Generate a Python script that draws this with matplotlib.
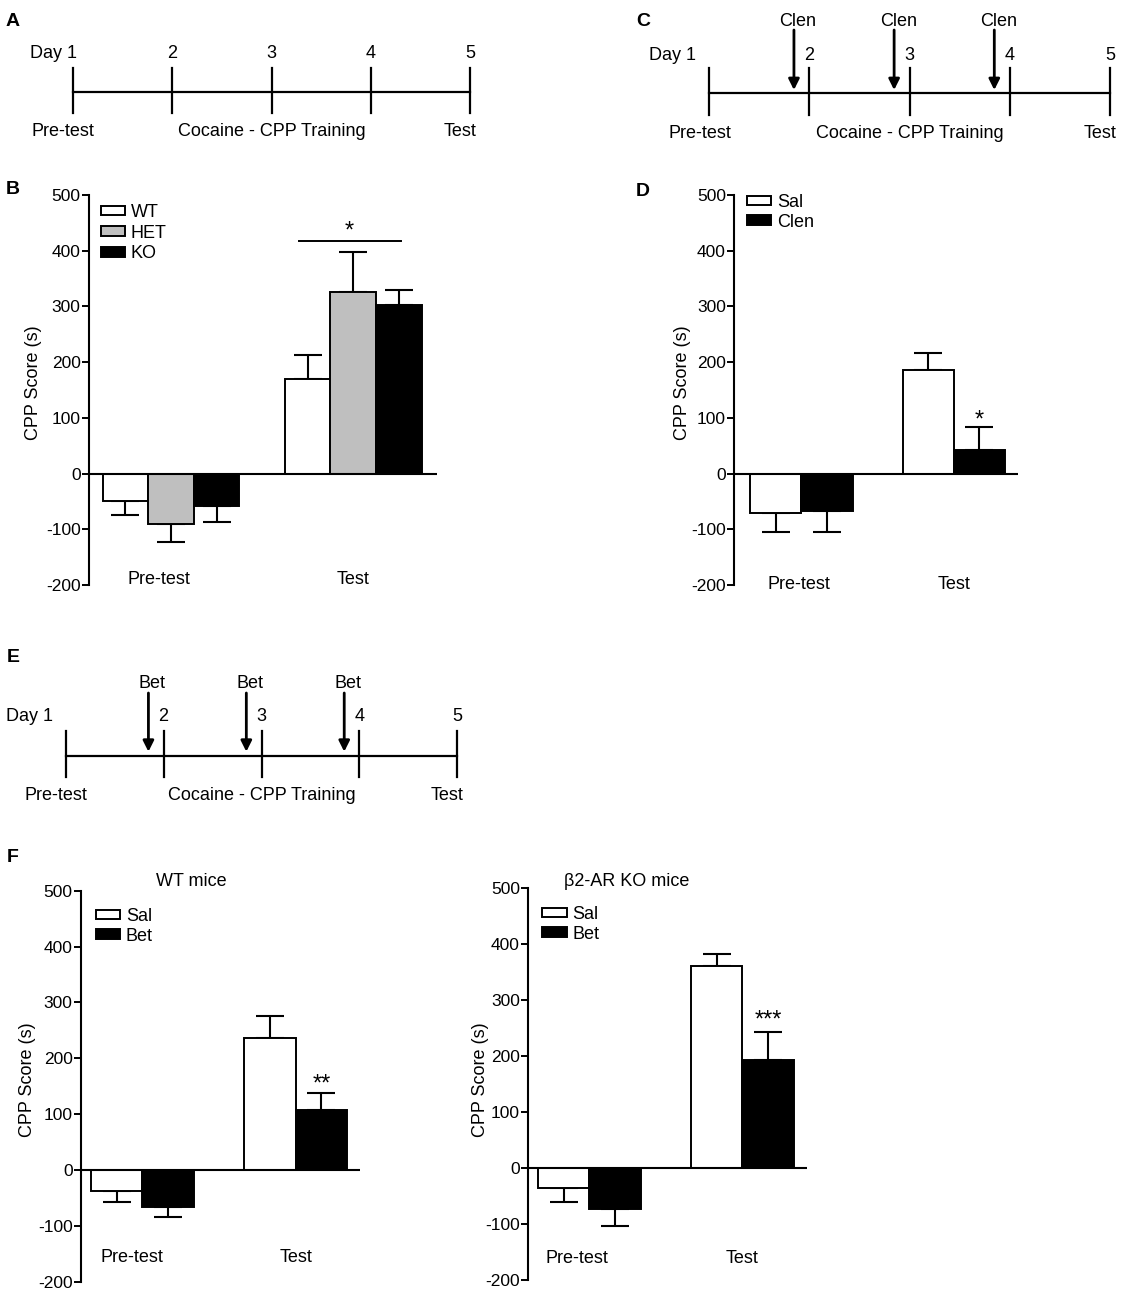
import numpy as np
import matplotlib
matplotlib.use("Agg")
import matplotlib.pyplot as plt

plt.rcParams['font.family'] = ['Liberation Sans', 'DejaVu Sans']
plt.rcParams['font.size'] = 13
plt.rcParams['axes.unicode_minus'] = False

W, H = 1123, 1300

# ---- data ----
groups = ['Pre-test', 'Test']

# B: genotype
b_labels = ['WT', 'HET', 'KO']
b_means = [[-49, 169], [-91, 326], [-59, 303]]
b_errs = [[26, 43], [32, 71], [28, 26]]

# D: clenbuterol
d_labels = ['Sal', 'Clen']
d_means = [[-71, 185], [-68, 43]]
d_errs = [[33, 31], [37, 40]]

# F: betaxolol, WT mice / b2-AR KO mice
f_labels = ['Sal', 'Bet']
fwt_means = [[-38, 237], [-67, 107]]
fwt_errs = [[20, 38], [18, 30]]
fko_means = [[-35, 361], [-73, 194]]
fko_errs = [[26, 22], [31, 50]]

days = [1, 2, 3, 4, 5]
inj_days = [2, 3, 4]
yticks = [-200, -100, 0, 100, 200, 300, 400, 500]

fig = plt.figure(figsize=(W / 100, H / 100), dpi=100)


def px_axes(x0, y0, x1, y1):
    return fig.add_axes([x0 / W, 1 - y1 / H, (x1 - x0) / W, (y1 - y0) / H])


def timeline(x0, x1, y0, y1, yline, ytick0, ytick1, ynum, ybot, drug=None,
             yarr0=None, yarr1=None, ydrug=None, day1_off=0):
    ax = px_axes(x0, y0, x1, y1)
    ax.set_xlim(1, 5)
    ax.set_ylim(y1, y0)
    ax.axis('off')
    ax.plot([days[0], days[-1]], [yline, yline], color='black', lw=1.6,
            clip_on=False)
    for d in days:
        ax.plot([d, d], [ytick0, ytick1], color='black', lw=1.6, clip_on=False)
        if d == 1:
            ax.annotate('Day 1', (d, ynum), xytext=(day1_off, 0),
                        textcoords='offset pixels', ha='right', va='center',
                        annotation_clip=False)
        else:
            ax.text(d, ynum, str(d), ha='center', va='center')
    ax.annotate('Pre-test', (days[0], ybot), xytext=(-41, 0),
                textcoords='offset pixels', ha='left', va='center',
                annotation_clip=False)
    ax.text(3, ybot, 'Cocaine - CPP Training', ha='center', va='center')
    ax.annotate('Test', (days[-1], ybot), xytext=(6, 0),
                textcoords='offset pixels', ha='right', va='center',
                annotation_clip=False)
    if drug:
        for d in inj_days:
            xa = d - 0.155
            ax.annotate('', xy=(xa, yarr1), xytext=(xa, yarr0),
                        arrowprops=dict(arrowstyle='-|>', lw=2, color='black',
                                        mutation_scale=16, shrinkA=0,
                                        shrinkB=0),
                        annotation_clip=False)
            ax.text(xa + 0.04, ydrug, drug, ha='center', va='center')
    return ax


def cpp_panel(x0, x1, ytop, ybot, xlim, labels, means, errs, colors, width,
              ylab_px, legend_px, cat_y, pre_dx, lspace=0.15):
    ax = px_axes(x0, ytop, x1, ybot)
    ax.set_xlim(*xlim)
    ax.set_ylim(-200, 500)
    for s in ['top', 'right', 'bottom']:
        ax.spines[s].set_visible(False)
    ax.spines['left'].set_linewidth(1.5)
    ax.set_yticks(yticks)
    ax.tick_params(axis='y', length=5, width=1.4, labelsize=12.5, pad=1)
    ax.set_xticks([])
    n = len(means)
    handles = []
    for k in range(n):
        m = np.array(means[k], dtype=float)
        e = np.array(errs[k], dtype=float)
        xs = np.arange(len(groups)) + (k - (n - 1) / 2) * width
        b = ax.bar(xs, m, width, color=colors[k], edgecolor='black',
                   linewidth=1.4, zorder=2)
        lo = np.where(m < 0, e, 0)
        hi = np.where(m >= 0, e, 0)
        ax.errorbar(xs, m, yerr=[lo, hi], fmt='none', ecolor='black',
                    elinewidth=1.5, capsize=10, capthick=1.5, zorder=1)
        handles.append(b)
    ax.axhline(0, color='black', lw=1.5, zorder=3)
    for i, g in enumerate(groups):
        ax.text(i + (pre_dx if i == 0 else 0), cat_y, g, ha='center',
                va='center')
    ax.set_ylabel('CPP Score (s)')
    ax.yaxis.set_label_coords((ylab_px[0] + 9) / W, 1 - ylab_px[1] / H,
                              transform=fig.transFigure)
    ax.legend(handles, labels, loc='upper left',
              bbox_to_anchor=(legend_px[0] / W, 1 - legend_px[1] / H),
              bbox_transform=fig.transFigure, frameon=False, borderpad=0,
              borderaxespad=0, handlelength=1.35, handleheight=0.45,
              handletextpad=0.3, labelspacing=lspace)
    return ax


def star(ax, x, y, s, dy=0):
    ax.annotate(s, (x, y), xytext=(0, dy), textcoords='offset pixels',
                ha='center', va='bottom', fontsize=17, annotation_clip=False)


# A
timeline(72.7, 470.3, 0, 160, 91.7, 68, 113, 53, 131.7, day1_off=4)
# C
timeline(709.3, 1110, 0, 160, 93.3, 68, 115, 55, 133, drug='Clen',
         yarr0=30, yarr1=90, ydrug=21.7, day1_off=-13)
# E
timeline(65.7, 457.3, 640, 820, 756, 730.7, 776.7, 716.7, 795, drug='Bet',
         yarr0=693, yarr1=751.7, ydrug=684, day1_off=-13)

# B
axB = cpp_panel(89, 437, 195, 585, (-0.45, 1.46), b_labels, b_means, b_errs,
                ['white', '#bfbfbf', 'black'], 0.25, (33, 383), (100.7, 204),
                -190, -0.065, lspace=0.2)
axB.plot([0.70, 1.26], [418, 418], color='black', lw=1.4)
star(axB, 0.98, 418, '*', dy=-2)

# D
axD = cpp_panel(734.3, 1018, 195, 585, (-0.44, 1.42), d_labels, d_means,
                d_errs, ['white', 'black'], 0.335, (681.7, 383), (747, 194),
                -200, -0.015)
star(axD, 1 + 0.335 / 2, d_means[1][1] + d_errs[1][1], '*', dy=-4)

# F left
axF1 = cpp_panel(81, 360, 890.7, 1281.7, (-0.40, 1.42), f_labels, fwt_means,
                 fwt_errs, ['white', 'black'], 0.335, (26.7, 1080),
                 (96, 908), -157, -0.07)
star(axF1, 1 + 0.335 / 2, fwt_means[1][1] + fwt_errs[1][1], '**', dy=-2)
fig.text(191.7 / W, 1 - 881.7 / H, 'WT mice', ha='center', va='center')

# F right
axF2 = cpp_panel(528.3, 806.7, 888.3, 1280, (-0.40, 1.42), f_labels,
                 fko_means, fko_errs, ['white', 'black'], 0.335, (480, 1080),
                 (542.3, 906), -162, -0.085)
star(axF2, 1 + 0.335 / 2, fko_means[1][1] + fko_errs[1][1], '***', dy=0)
fig.text(626.7 / W, 1 - 881 / H, 'β2-AR KO mice', ha='center', va='center')

# panel letters
for lab, (x, y) in zip('ABCDEF', [(13, 22), (13, 190), (643, 21), (643, 191),
                                  (13, 658), (13, 858)]):
    fig.text(x / W, 1 - y / H, lab, ha='center', va='center', fontsize=14,
             fontweight='bold')

fig.savefig('out.png', dpi=100)
